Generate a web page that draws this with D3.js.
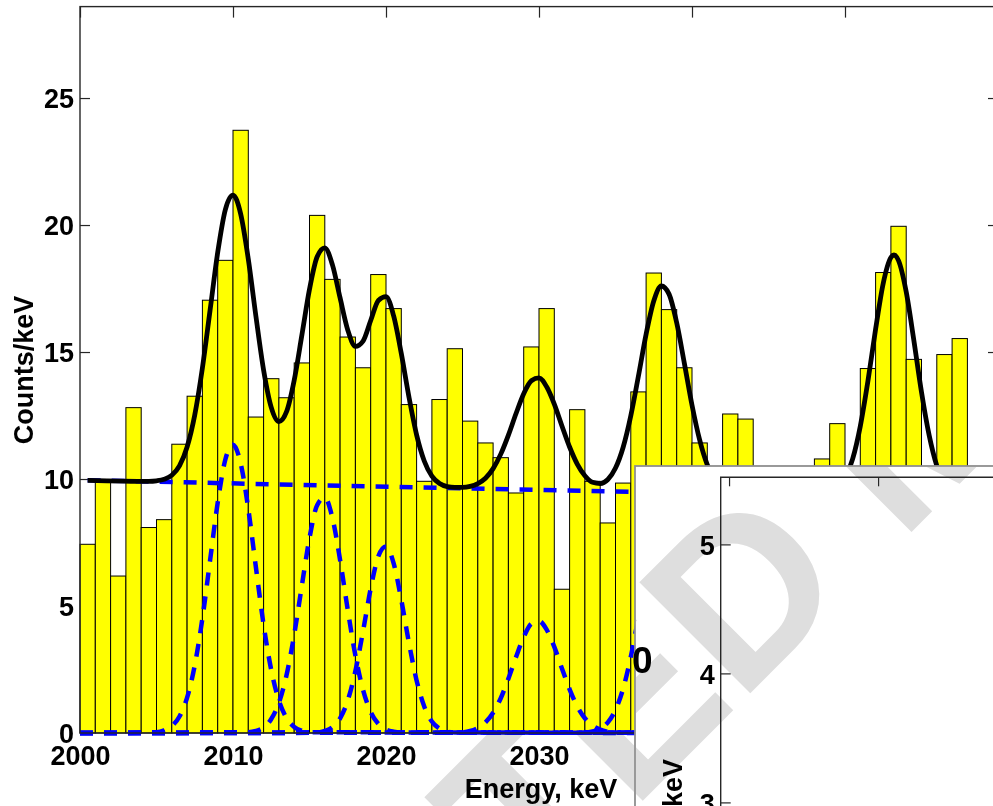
<!DOCTYPE html>
<html>
<head>
<meta charset="utf-8">
<script src="https://cdn.jsdelivr.net/npm/d3@7"></script>
<style>
  html, body { margin: 0; padding: 0; background: #fff; }
  svg { display: block; }
</style>
</head>
<body>
<svg id="chart" width="993" height="806"></svg>
<script>
// histogram, 1 keV bins
var binStart = [2000, 2001, 2002, 2003, 2004, 2005, 2006, 2007, 2008, 2009,
                2010, 2011, 2012, 2013, 2014, 2015, 2016, 2017, 2018, 2019,
                2020, 2021, 2022, 2023, 2024, 2025, 2026, 2027, 2028, 2029,
                2030, 2031, 2032, 2033, 2034, 2035, 2036, 2037, 2038, 2039,
                2040, 2041, 2042, 2043, 2044, 2045, 2046, 2047, 2048, 2049,
                2050, 2051, 2052, 2053, 2054, 2055, 2056, 2057, 2058, 2059];
var counts = [7.43, 9.92, 6.18, 12.81, 8.09, 8.40, 11.37, 13.26, 17.04, 18.61,
              23.73, 12.44, 13.95, 13.20, 14.57, 20.38, 17.86, 15.59, 14.38, 18.05,
              16.71, 12.93, 9.91, 13.13, 15.13, 12.28, 11.42, 10.84, 9.45, 15.20,
              16.71, 5.66, 12.73, 9.91, 8.27, 9.84, 13.43, 18.11, 16.67, 14.38,
              11.42, 9.6, 12.56, 12.36, 8.9, 10.1, 9.3, 7.8, 10.79, 12.18,
              9.9, 14.35, 18.13, 19.95, 14.71, 10.2, 14.90, 15.53, 9.4, 8.8];

// total fit (black)
var fitE = [2000.5, 2004.5, 2005, 2005.5, 2006, 2006.5, 2007, 2007.5, 2008, 2008.5, 2009, 2009.5,
            2010, 2010.5, 2011, 2011.5, 2012, 2012.5, 2013, 2013.5, 2014, 2014.5, 2015, 2015.5,
            2016, 2016.5, 2017, 2017.5, 2018, 2018.5, 2019, 2019.5, 2020, 2020.5, 2021, 2021.5,
            2022, 2022.5, 2023, 2023.5, 2024, 2024.5, 2025, 2025.5, 2026, 2026.5, 2027, 2027.5,
            2028, 2028.5, 2029, 2029.5, 2030, 2030.5, 2031, 2031.5, 2032, 2032.5, 2033, 2033.5,
            2034, 2034.5, 2035, 2035.5, 2036, 2036.5, 2037, 2037.5, 2038, 2038.5, 2039, 2039.5,
            2040, 2040.5, 2041, 2041.5, 2042, 2042.5, 2043, 2048, 2048.5, 2049, 2049.5,
            2050, 2050.5, 2051, 2051.5, 2052, 2052.5, 2053, 2053.2, 2053.5, 2054, 2054.5,
            2055, 2055.5, 2056, 2056.5, 2057, 2057.5, 2058, 2059.5];
var fitCounts = [9.95, 9.91, 9.93, 9.99, 10.15, 10.52, 11.26, 12.52, 14.37, 16.64, 18.92, 20.61,
                 21.18, 20.44, 18.66, 16.40, 14.29, 12.82, 12.26, 12.65, 13.89, 15.66, 17.47, 18.75,
                 19.10, 18.43, 17.13, 15.87, 15.22, 15.43, 16.24, 17.03, 17.18, 16.42, 14.94, 13.23,
                 11.74, 10.71, 10.11, 9.82, 9.70, 9.67, 9.67, 9.71, 9.82, 10.03, 10.41, 10.98,
                 11.73, 12.58, 13.36, 13.87, 13.98, 13.63, 12.95, 12.09, 11.26, 10.59, 10.13, 9.87,
                 9.82, 9.98, 10.43, 11.25, 12.49, 14.06, 15.70, 17.01, 17.60, 17.28, 16.15, 14.56,
                 12.91, 11.54, 10.56, 9.97, 9.65, 9.50, 9.43, 9.35, 9.36, 9.43, 9.61,
                 10.01, 10.79, 12.08, 13.86, 15.90, 17.71, 18.72, 18.82, 18.60, 17.37, 15.46,
                 13.42, 11.72, 10.52, 9.82, 9.46, 9.30, 9.23, 9.19];

// background of the fit (blue dashed)
var bgE = [2000.5, 2059.5];
var bgCounts = [9.95, 9.19];

// single peak components (blue dashed)
var compE1 = [2000, 2005, 2005.5, 2006, 2006.5, 2007, 2007.5, 2008, 2008.5, 2009, 2009.5, 2010,
              2010.5, 2011, 2011.5, 2012, 2012.5, 2013, 2013.5, 2014, 2014.5, 2015, 2059.5];
var compY1 = [0, 0.03, 0.10, 0.27, 0.65, 1.39, 2.66, 4.51, 6.79, 9.07, 10.77, 11.35,
              10.62, 8.82, 6.51, 4.26, 2.48, 1.28, 0.59, 0.24, 0.09, 0.03, 0];
var compE2 = [2000, 2011, 2011.5, 2012, 2012.5, 2013, 2013.5, 2014, 2014.5, 2015, 2015.5, 2016,
              2016.5, 2017, 2017.5, 2018, 2018.5, 2019, 2019.5, 2020, 2020.5, 2021, 2059.5];
var compY2 = [0, 0.03, 0.08, 0.22, 0.55, 1.19, 2.28, 3.87, 5.80, 7.68, 8.97, 9.27,
              8.46, 6.81, 4.85, 3.05, 1.70, 0.83, 0.36, 0.14, 0.05, 0.01, 0];
var compE3 = [2000, 2015.5, 2016, 2016.5, 2017, 2017.5, 2018, 2018.5, 2019, 2019.5, 2020,
              2020.5, 2021, 2021.5, 2022, 2022.5, 2023, 2023.5, 2024, 2024.5, 2059.5];
var compY3 = [0, 0.02, 0.08, 0.23, 0.58, 1.28, 2.44, 4.01, 5.69, 6.96, 7.34,
              6.68, 5.24, 3.55, 2.07, 1.04, 0.45, 0.17, 0.06, 0.02, 0];
var compE4 = [2000, 2025, 2025.5, 2026, 2026.5, 2027, 2027.5, 2028, 2028.5, 2029, 2029.5, 2030,
              2030.5, 2031, 2031.5, 2032, 2032.5, 2033, 2033.5, 2034, 2034.5, 2035, 2059.5];
var compY4 = [0, 0.03, 0.08, 0.20, 0.42, 0.80, 1.37, 2.14, 2.99, 3.78, 4.30, 4.41,
              4.07, 3.39, 2.54, 1.72, 1.05, 0.58, 0.29, 0.13, 0.05, 0.02, 0];
var compE5 = [2000, 2033, 2033.5, 2034, 2034.5, 2035, 2035.5, 2036, 2036.5, 2037, 2037.5, 2038,
              2038.5, 2039, 2039.5, 2040, 2040.5, 2041, 2041.5, 2042, 2042.5, 2043, 2059.5];
var compY5 = [0, 0.02, 0.06, 0.17, 0.42, 0.91, 1.75, 3.00, 4.57, 6.22, 7.54, 8.14,
              7.82, 6.70, 5.11, 3.47, 2.10, 1.13, 0.54, 0.23, 0.09, 0.03, 0];
var compE6 = [2000, 2048.5, 2049, 2049.5, 2050, 2050.5, 2051, 2051.5, 2052, 2052.5, 2053, 2053.2,
              2053.5, 2054, 2054.5, 2055, 2055.5, 2056, 2056.5, 2057, 2057.5, 2058, 2059.5];
var compY6 = [0, 0.03, 0.11, 0.29, 0.70, 1.49, 2.78, 4.57, 6.62, 8.43, 9.45, 9.55,
              9.33, 8.11, 6.21, 4.18, 2.48, 1.29, 0.59, 0.24, 0.09, 0.03, 0];

var xTicks = [2000, 2010, 2020, 2030, 2040, 2050];
var yTicks = [0, 5, 10, 15, 20, 25];
var insetYTicks = [3, 4, 5];
var insetXTicks = [1, 2];
var watermarkText = "ACCEPTED MANUSCRIPT";

var FONT = '"Liberation Sans", Arial, Helvetica, sans-serif';
var AXIS = "#262626";

var svg = d3.select("#chart");
svg.append("rect").attr("width", 993).attr("height", 806).attr("fill", "#fff");

var x = d3.scaleLinear().domain([2000, 2060]).range([80, 998]);
var y = d3.scaleLinear().domain([0, 28.6]).range([733, 6.6]);

function styleAxis(g) {
    g.select(".domain").remove();
    g.attr("font-family", FONT).attr("font-size", 27).attr("font-weight", "bold");
    g.selectAll(".tick line").attr("stroke", AXIS).attr("stroke-width", 1.2);
    g.selectAll(".tick text").attr("fill", "#000");
}

// axes go under the data, like the original
svg.append("g").attr("transform", "translate(0,733)")
    .call(d3.axisBottom(x).tickValues(xTicks).tickSize(-10).tickPadding(13).tickFormat(d3.format("d")))
    .call(styleAxis);
svg.append("g").attr("transform", "translate(0," + y.range()[1] + ")")
    .call(d3.axisTop(x).tickValues(xTicks).tickSize(-11).tickFormat(""))
    .call(styleAxis);
svg.append("g").attr("transform", "translate(80,0)")
    .call(d3.axisLeft(y).tickValues(yTicks).tickSize(-10).tickPadding(6))
    .call(styleAxis)
    .selectAll(".tick text").attr("dy", "0.36em");
svg.append("g").attr("transform", "translate(998,0)")
    .call(d3.axisRight(y).tickValues(yTicks).tickSize(-10).tickFormat(""))
    .call(styleAxis);

// bars
svg.append("g").selectAll("rect")
    .data(binStart)
    .enter()
    .append("rect")
    .attr("x", function(d) { return x(d); })
    .attr("width", function(d) { return x(d + 1) - x(d); })
    .attr("y", function(d, i) { return y(counts[i]); })
    .attr("height", function(d, i) { return y(0) - y(counts[i]); })
    .attr("fill", "#ffff00")
    .attr("stroke", "#000")
    .attr("stroke-width", 1);

function pts(es, vs) {
    return es.map(function(e, i) { return [e, vs[i]]; });
}
var line = d3.line()
    .x(function(d) { return x(d[0]); })
    .y(function(d) { return y(d[1]); })
    .curve(d3.curveMonotoneX);

var comps = [[compE1, compY1], [compE2, compY2], [compE3, compY3],
             [compE4, compY4], [compE5, compY5], [compE6, compY6]];
svg.append("g").selectAll("path")
    .data(comps)
    .enter()
    .append("path")
    .attr("d", function(c) { return line(pts(c[0], c[1])); })
    .attr("fill", "none")
    .attr("stroke", "#0000ff")
    .attr("stroke-width", 4.5)
    .attr("stroke-dasharray", "13,11");

svg.append("path")
    .attr("d", line(pts(bgE, bgCounts)))
    .attr("fill", "none")
    .attr("stroke", "#0000ff")
    .attr("stroke-width", 4.5)
    .attr("stroke-dasharray", "13,11");

svg.append("path")
    .attr("d", line(pts(fitE, fitCounts)))
    .attr("fill", "none")
    .attr("stroke", "#000")
    .attr("stroke-width", 4.8)
    .attr("stroke-linejoin", "round");

// frame
svg.append("rect")
    .attr("x", 80).attr("y", y.range()[1])
    .attr("width", 918).attr("height", 733 - y.range()[1])
    .attr("fill", "none").attr("stroke", AXIS).attr("stroke-width", 1.4);

svg.append("text")
    .attr("transform", "translate(33,370) rotate(-90)")
    .attr("text-anchor", "middle")
    .attr("font-family", FONT).attr("font-size", 27).attr("font-weight", "bold")
    .text("Counts/keV");
svg.append("text")
    .attr("x", 541).attr("y", 798)
    .attr("text-anchor", "middle")
    .attr("font-family", FONT).attr("font-size", 27).attr("font-weight", "bold")
    .text("Energy, keV");

// inset panel covering the lower right corner
svg.append("rect")
    .attr("x", 635).attr("y", 466).attr("width", 400).attr("height", 400)
    .attr("fill", "#fff").attr("stroke", "#8f8f8f").attr("stroke-width", 1.8);

// watermark, only where the page is not covered by the main axes
var clip = svg.append("defs").append("clipPath").attr("id", "wmclip");
clip.append("rect").attr("x", 0).attr("y", 734).attr("width", 634).attr("height", 80);
clip.append("rect").attr("x", 0).attr("y", 0).attr("width", 79).attr("height", 806);
clip.append("rect").attr("x", 636).attr("y", 467).attr("width", 400).attr("height", 400);

var wmG = svg.append("g").attr("clip-path", "url(#wmclip)").style("mix-blend-mode", "multiply");
var wm = wmG.append("text")
    .attr("font-family", FONT).attr("font-size", 228).attr("font-weight", "bold")
    .attr("fill", "#dedede")
    .text(watermarkText);
var wmNode = wm.node();
var px = wmNode.getSubStringLength(0, 7) + wmNode.getSubStringLength(7, 1) / 2;
var py = -0.716 * 228 / 2;
var ang = -45;
var th = ang * Math.PI / 180;
var rx = px * Math.cos(th) - py * Math.sin(th);
var ry = px * Math.sin(th) + py * Math.cos(th);
wm.attr("transform", "translate(" + (740 - rx) + "," + (588 - ry) + ") rotate(" + ang + ")");

// inset axes
var ix = d3.scaleLinear().domain([0.944, 2.8]).range([720.7, 997.3]);
var iy = d3.scaleLinear().domain([2.9, 5.52]).range([815.3, 477.3]);

svg.append("g").attr("transform", "translate(0,477.3)")
    .call(d3.axisTop(ix).tickValues(insetXTicks).tickSize(-9).tickFormat(""))
    .call(styleAxis);
svg.append("g").attr("transform", "translate(720.7,0)")
    .call(d3.axisLeft(iy).tickValues(insetYTicks).tickSize(-10).tickPadding(6).tickFormat(d3.format("d")))
    .call(styleAxis)
    .selectAll(".tick text").attr("dy", "0.36em");
svg.append("path")
    .attr("d", "M720.7,812V477.3H1000")
    .attr("fill", "none").attr("stroke", AXIS).attr("stroke-width", 1.4);

svg.append("text")
    .attr("transform", "translate(682,759) rotate(-90)")
    .attr("text-anchor", "end")
    .attr("font-family", FONT).attr("font-size", 27).attr("font-weight", "bold")
    .text("FWHM, keV");

svg.append("text")
    .attr("x", 632).attr("y", 673)
    .attr("font-family", FONT).attr("font-size", 37).attr("font-weight", "bold")
    .text("0");
</script>
</body>
</html>
